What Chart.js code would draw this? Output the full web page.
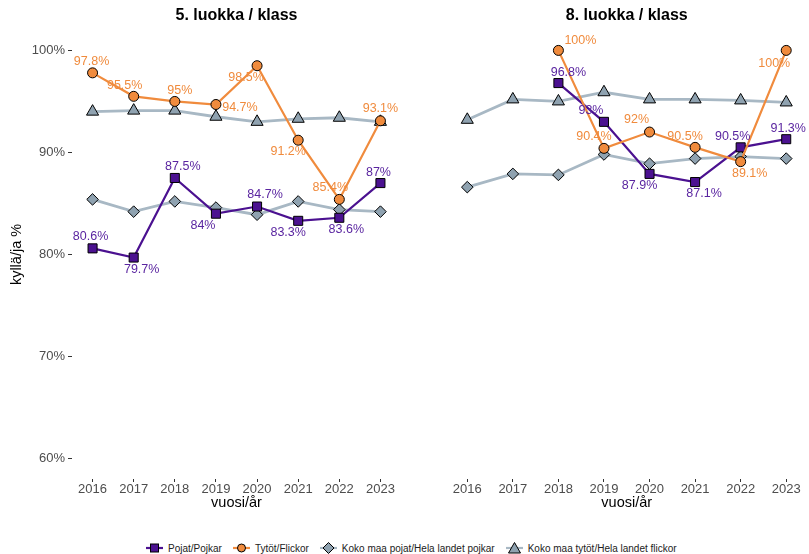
<!DOCTYPE html>
<html>
<head>
<meta charset="utf-8">
<script src="https://cdn.jsdelivr.net/npm/chart.js@4.4.1/dist/chart.umd.min.js"></script>
<style>
  body { margin: 0; background: #fff; width: 809px; height: 554px; position: relative; overflow: hidden;
         font-family: 'Liberation Sans', Arial, sans-serif; }
  canvas { position: absolute; top: 0; }
  #left { left: 0; }
  #right { left: 404px; }
  #legend { position: absolute; left: 146px; top: 541px; display: flex; align-items: center;
            font-size: 10px; color: #222; white-space: nowrap; }
  #legend .item { display: flex; align-items: center; margin-right: 11px; }
  #legend svg { margin-right: 5px; }
</style>
</head>
<body>
<canvas id="left" width="404" height="512"></canvas>
<canvas id="right" width="405" height="512"></canvas>
<div id="legend"></div>
<script>
// vuodet / år
var years = ['2016', '2017', '2018', '2019', '2020', '2021', '2022', '2023'];
var yTicks = [60, 70, 80, 90, 100];

// 5. luokka / klass
var boys5 = [80.6, 79.7, 87.5, 84, 84.7, 83.3, 83.6, 87];
var girls5 = [97.8, 95.5, 95, 94.7, 98.5, 91.2, 85.4, 93.1];
var boysAll5 = [85.4, 84.2, 85.2, 84.6, 83.9, 85.2, 84.4, 84.2];
var girlsAll5 = [94.0, 94.1, 94.1, 93.5, 93.0, 93.3, 93.4, 93.0];

// 8. luokka / klass
var boys8 = [null, null, 96.8, 93, 87.9, 87.1, 90.5, 91.3];
var girls8 = [null, null, 100, 90.4, 92, 90.5, 89.1, 100];
var boysAll8 = [86.6, 87.9, 87.8, 89.8, 88.9, 89.4, 89.6, 89.4];
var girlsAll8 = [93.2, 95.2, 95.0, 95.9, 95.2, 95.2, 95.1, 94.9];

// label nudges (px) so the value texts don't sit on the markers
var boys5Nudge = [[-2, -12], [8, 12], [8, -11], [-13, 12], [8, -12], [-10, 12], [7, 12], [-2, -11]];
var girls5Nudge = [[-1, -11], [-9, -11], [5, -11], [24, 3], [-11, 12], [-10, 11], [-9, -12], [0, -12]];
var boys8Nudge = [null, null, [10, -11], [-13, -11], [-10, 12], [9, 11], [-8, -11], [2, -11]];
var girls8Nudge = [null, null, [22, -10], [-10, -12], [-13, -12], [-10, -11], [9, 12], [-12, 13]];

var PURPLE = '#4b1190';
var ORANGE = '#f08b3d';
var GREY_LINE = '#a8b8c4';
var GREY_FILL = '#8fa2b0';
var FONT = "'Liberation Sans', Arial, sans-serif";

Chart.defaults.font.family = FONT;
Chart.defaults.color = '#4d4d4d';

var valueLabels = {
  id: 'valueLabels',
  afterDatasetsDraw: function(chart) {
    var ctx = chart.ctx;
    ctx.save();
    ctx.font = '12.5px ' + FONT;
    ctx.textAlign = 'center';
    ctx.textBaseline = 'middle';
    chart.data.datasets.forEach(function(ds, i) {
      if (!ds.nudge) return;
      var meta = chart.getDatasetMeta(i);
      meta.data.forEach(function(pt, j) {
        var v = ds.data[j], off = ds.nudge[j];
        if (v == null || !off) return;
        ctx.fillStyle = ds.labelColor;
        ctx.fillText(v + '%', pt.x + off[0], pt.y + off[1]);
      });
    });
    ctx.restore();
  }
};

function panelTitle(text) {
  return {
    id: 'panelTitle',
    afterDraw: function(chart) {
      var a = chart.chartArea, ctx = chart.ctx;
      ctx.save();
      ctx.font = 'bold 16px ' + FONT;
      ctx.fillStyle = '#000';
      ctx.textAlign = 'center';
      ctx.textBaseline = 'middle';
      ctx.fillText(text, (a.left + a.right) / 2, 16);
      ctx.restore();
    }
  };
}

function series(boys, girls, boysAll, girlsAll, boysNudge, girlsNudge) {
  return [
    {
      label: 'Tytöt/Flickor', data: girls, order: 1,
      borderColor: ORANGE, borderWidth: 2.2, pointStyle: 'circle', pointRadius: 5,
      pointBackgroundColor: ORANGE, pointBorderColor: '#000', pointBorderWidth: 1,
      nudge: girlsNudge, labelColor: ORANGE
    },
    {
      label: 'Pojat/Pojkar', data: boys, order: 2,
      borderColor: PURPLE, borderWidth: 2.2, pointStyle: 'rect', pointRadius: 6.4,
      pointBackgroundColor: PURPLE, pointBorderColor: '#000', pointBorderWidth: 1,
      nudge: boysNudge, labelColor: '#5a25a0'
    },
    {
      label: 'Koko maa pojat/Hela landet pojkar', data: boysAll, order: 3,
      borderColor: GREY_LINE, borderWidth: 2.8, pointStyle: 'rectRot', pointRadius: 5.8,
      pointBackgroundColor: GREY_FILL, pointBorderColor: '#000', pointBorderWidth: 1
    },
    {
      label: 'Koko maa tytöt/Hela landet flickor', data: girlsAll, order: 3,
      borderColor: GREY_LINE, borderWidth: 2.8, pointStyle: 'triangle', pointRadius: 7,
      pointBackgroundColor: GREY_FILL, pointBorderColor: '#000', pointBorderWidth: 1
    }
  ];
}

function makeChart(id, title, datasets, showY) {
  var yScale = showY ? {
    min: 58, max: 102,
    afterBuildTicks: function(s) { s.ticks = yTicks.map(function(v) { return { value: v }; }); },
    afterFit: function(s) { s.width = 72; },
    border: { display: false },
    grid: { drawOnChartArea: false, drawTicks: true, tickLength: 4, color: '#333' },
    ticks: { color: '#4d4d4d', font: { size: 13 }, padding: 3, callback: function(v) { return v + '%'; } },
    title: { display: true, text: 'kyllä/ja %', color: '#000', font: { size: 14.5 }, padding: { top: 8, bottom: 0 } }
  } : { display: false, min: 58, max: 102 };

  return new Chart(document.getElementById(id), {
    type: 'line',
    data: { labels: years, datasets: datasets },
    options: {
      responsive: false,
      animation: false,
      devicePixelRatio: 1,
      layout: {
        autoPadding: false,
        padding: showY ? { top: 30, right: 3, left: 0, bottom: 0 } : { top: 30, right: 0, left: 40.5, bottom: 0 }
      },
      elements: { line: { tension: 0 } },
      plugins: { legend: { display: false }, tooltip: { enabled: false } },
      scales: {
        x: {
          type: 'category', offset: true,
          afterFit: function(s) { s.height = 33; },
          border: { display: false },
          grid: { drawOnChartArea: false, drawTicks: true, tickLength: 3, color: '#333', offset: false },
          ticks: { color: '#4d4d4d', font: { size: 13 }, padding: 0, maxRotation: 0, autoSkip: false },
          title: { display: true, text: 'vuosi/år', color: '#000', font: { size: 14.5 }, padding: { top: 0, bottom: 0 } }
        },
        y: yScale
      }
    },
    plugins: [valueLabels, panelTitle(title)]
  });
}

makeChart('left', '5. luokka / klass', series(boys5, girls5, boysAll5, girlsAll5, boys5Nudge, girls5Nudge), true);
makeChart('right', '8. luokka / klass', series(boys8, girls8, boysAll8, girlsAll8, boys8Nudge, girls8Nudge), false);

// shared legend under both panels
var keys = [
  { text: 'Pojat/Pojkar', line: PURPLE, fill: PURPLE, shape: 'rect' },
  { text: 'Tytöt/Flickor', line: ORANGE, fill: ORANGE, shape: 'circle' },
  { text: 'Koko maa pojat/Hela landet pojkar', line: GREY_LINE, fill: GREY_FILL, shape: 'diamond' },
  { text: 'Koko maa tytöt/Hela landet flickor', line: GREY_LINE, fill: GREY_FILL, shape: 'triangle' }
];
var marks = {
  rect: '<rect x="4.5" y="3" width="8" height="8" />',
  circle: '<circle cx="8.5" cy="7" r="4" />',
  diamond: '<polygon points="8.5,1.5 14,7 8.5,12.5 3,7" />',
  triangle: '<polygon points="8.5,1.5 14.5,12 2.5,12" />'
};
document.getElementById('legend').innerHTML = keys.map(function(k) {
  return '<span class="item"><svg width="17" height="14">' +
    '<line x1="0" y1="7" x2="17" y2="7" stroke="' + k.line + '" stroke-width="2.2" />' +
    '<g fill="' + k.fill + '" stroke="#000" stroke-width="1">' + marks[k.shape] + '</g></svg>' +
    k.text + '</span>';
}).join('');
</script>
</body>
</html>
